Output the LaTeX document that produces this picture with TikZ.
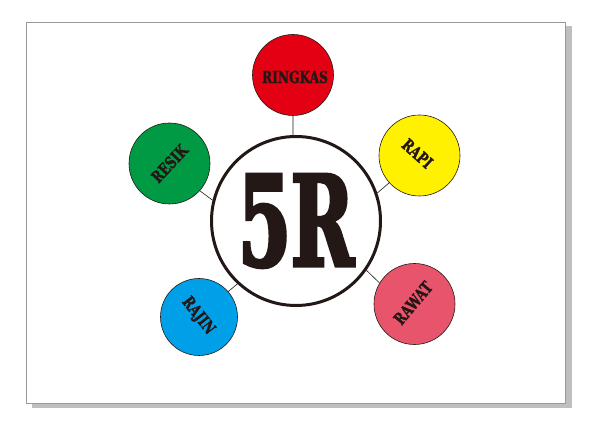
\documentclass[tikz,border=0pt]{standalone}
\usepackage{fontspec}
\usetikzlibrary{positioning}
\newfontfamily\posterfont{DejaVu Serif}[FakeStretch=0.60,FakeBold=2.5]
\newfontfamily\labelfont{DejaVu Serif}[FakeStretch=0.74,FakeBold=1.5]
\definecolor{ringkasred}{RGB}{227,0,19}
\definecolor{resikgreen}{RGB}{0,153,68}
\definecolor{rapiyellow}{RGB}{255,241,0}
\definecolor{rajinblue}{RGB}{0,160,233}
\definecolor{rawatpink}{RGB}{232,84,108}
\definecolor{inkblack}{RGB}{35,24,21}
\definecolor{framegray}{RGB}{153,153,153}
\definecolor{shadowgray}{RGB}{191,191,191}
\tikzset{
    rbox/.style={circle, draw=inkblack, fill=#1, line width=0.6pt,
                 minimum size=81pt, inner sep=0pt},
    rlbl/.style={font=\labelfont\bfseries\fontsize{16.5}{16.5}\selectfont,
                 text=inkblack, inner sep=0pt},
    hub/.style={circle, draw=inkblack, fill=white, line width=3pt,
                minimum size=169pt, inner sep=0pt,
                font=\posterfont\bfseries\fontsize{126}{126}\selectfont,
                text=inkblack},
    stub/.style={draw=inkblack, line width=0.6pt},
}

\begin{document}
\begin{tikzpicture}[x=1pt, y=-1pt]
    \useasboundingbox (0,0) rectangle (606,430);
    % page with shadow
    \fill[shadowgray] (32,26.5) rectangle (572,408);
    \draw[framegray, fill=white, line width=0.8pt] (26,22) rectangle (565.5,403.5);

    \node[hub]                            (pusat)   at (296,221) {5R};

    \node[rbox=ringkasred]                (ringkas) at (293,75)    {};
    \node[rbox=resikgreen]                (resik)   at (169.5,163.5) {};
    \node[rbox=rapiyellow]                (rapi)    at (419.5,155.5) {};
    \node[rbox=rajinblue, minimum size=77pt] (rajin) at (199,317)  {};
    \node[rbox=rawatpink]                 (rawat)   at (414.5,304) {};

    \node[rlbl]             (ringkas-t) at (295,77)  {RINGKAS};
    \node[rlbl, rotate=47]  (resik-t)   at (resik)   {RESIK};
    \node[rlbl, rotate=-42] (rapi-t)    at (417.5,153.5) {RAPI};
    \node[rlbl, rotate=-52] (rajin-t)   at (198,316) {RAJIN};
    \node[rlbl, rotate=50]  (rawat-t)   at (413,303) {RAWAT};

    \draw[stub](ringkas.south)--(pusat.92);
    \draw[stub](resik.-42)--(pusat.166);
    \draw[stub](rapi.222)--(pusat.19);
    \draw[stub](rajin.41)--(pusat.227);
    \draw[stub](rawat.149)--(pusat.-35);
\end{tikzpicture}
\end{document}
